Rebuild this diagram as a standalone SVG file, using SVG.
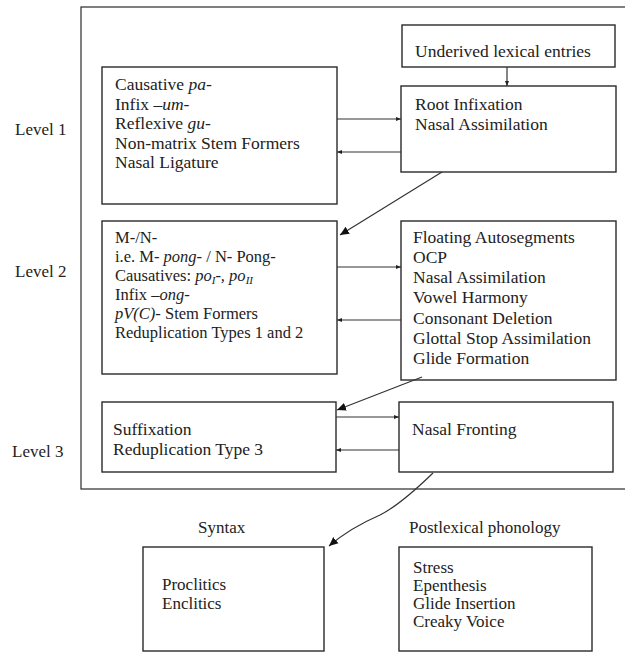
<svg xmlns="http://www.w3.org/2000/svg" width="625" height="653" viewBox="0 0 625 653">
<defs>
<marker id="sm" markerWidth="6" markerHeight="6" refX="5" refY="3" orient="auto" markerUnits="userSpaceOnUse"><path d="M0,1 L5,3 L0,5 Z" fill="#222"/></marker>
<marker id="big" markerWidth="10" markerHeight="10" refX="9" refY="5" orient="auto" markerUnits="userSpaceOnUse"><path d="M0,1 L9,5 L0,9 Z" fill="#111"/></marker>
</defs>
<style>
rect{fill:#fff;stroke:#2a2a2a;stroke-width:1.4}
text{font-family:"Liberation Serif","Times New Roman",serif;font-size:17.5px;fill:#222}
.i{font-style:italic}
.sub{font-size:11px}
.s{font-size:17px}
.m{font-size:16.5px}
.c line,.c path{stroke:#333;stroke-width:1.2;fill:none}
</style>
<rect x="0" y="0" width="625" height="653" style="stroke:none"/>
<g id="outer"><rect x="81" y="7" width="560" height="482" style="stroke-width:1.2"/></g>
<g id="labels">
<text x="15" y="135" class="s">Level 1</text>
<text x="15" y="277" class="s">Level 2</text>
<text x="12" y="457" class="s">Level 3</text>
<text x="198" y="533" class="s">Syntax</text>
<text x="409" y="533" class="s">Postlexical phonology</text>
</g>
<g id="underived"><rect x="402" y="25" width="213" height="42"/><text x="415" y="57">Underived lexical entries</text></g>
<g id="l1left"><rect x="102" y="67" width="235" height="137"/>
<text x="115" y="90">Causative <tspan class="i">pa-</tspan></text>
<text x="115" y="109.5">Infix <tspan class="i">–um-</tspan></text>
<text x="115" y="129">Reflexive <tspan class="i">gu-</tspan></text>
<text x="115" y="148.5">Non-matrix Stem Formers</text>
<text x="115" y="168">Nasal Ligature</text>
</g>
<g id="l1right"><rect x="401" y="86" width="215" height="86"/>
<text x="415" y="110">Root Infixation</text>
<text x="415" y="130">Nasal Assimilation</text>
</g>
<g id="l2left"><rect x="102" y="221" width="235" height="153"/>
<text x="115" y="243" class="m">M-/N-</text>
<text x="115" y="262" class="m">i.e. M- <tspan class="i">pong-</tspan> / N- Pong-</text>
<text x="115" y="281" class="m">Causatives: <tspan class="i">po<tspan class="sub" dy="3">I</tspan><tspan dy="-3">-, po</tspan><tspan class="sub" dy="3">II</tspan></tspan></text>
<text x="115" y="300" class="m">Infix <tspan class="i">–ong-</tspan></text>
<text x="115" y="319" class="m"><tspan class="i">pV(C)-</tspan> Stem Formers</text>
<text x="115" y="338" class="m">Reduplication Types 1 and 2</text>
</g>
<g id="l2right"><rect x="401" y="221" width="215" height="159"/>
<text x="413" y="243">Floating Autosegments</text>
<text x="413" y="263">OCP</text>
<text x="413" y="283">Nasal Assimilation</text>
<text x="413" y="303">Vowel Harmony</text>
<text x="413" y="324">Consonant Deletion</text>
<text x="413" y="344">Glottal Stop Assimilation</text>
<text x="413" y="364">Glide Formation</text>
</g>
<g id="l3left"><rect x="102" y="402" width="234" height="70"/>
<text x="113" y="435">Suffixation</text>
<text x="113" y="455">Reduplication Type 3</text>
</g>
<g id="l3right"><rect x="399" y="402" width="214" height="70"/>
<text x="412" y="435">Nasal Fronting</text>
</g>
<g id="syntax"><rect x="143" y="547" width="181" height="104"/>
<text x="162" y="590" class="s">Proclitics</text>
<text x="162" y="609" class="s">Enclitics</text>
</g>
<g id="postlex"><rect x="399" y="547" width="193" height="104"/>
<text x="413" y="573" class="s">Stress</text>
<text x="413" y="591" class="s">Epenthesis</text>
<text x="413" y="609" class="s">Glide Insertion</text>
<text x="413" y="627" class="s">Creaky Voice</text>
</g>
<g class="c" id="connectors">
<line x1="507" y1="67" x2="507" y2="86" marker-end="url(#sm)"/>
<line x1="337" y1="119" x2="401" y2="119" marker-end="url(#sm)"/>
<line x1="401" y1="152" x2="337" y2="152" marker-end="url(#sm)"/>
<line x1="442" y1="172" x2="340" y2="235" marker-end="url(#big)"/>
<line x1="337" y1="267" x2="401" y2="267" marker-end="url(#sm)"/>
<line x1="401" y1="320" x2="337" y2="320" marker-end="url(#sm)"/>
<line x1="422" y1="377" x2="337" y2="410" marker-end="url(#big)"/>
<line x1="336" y1="417" x2="399" y2="417" marker-end="url(#sm)"/>
<line x1="399" y1="450" x2="336" y2="450" marker-end="url(#sm)"/>
<path d="M433,473 Q400,505 380,515 Q350,528 329,546" marker-end="url(#big)"/>
</g>
</svg>
